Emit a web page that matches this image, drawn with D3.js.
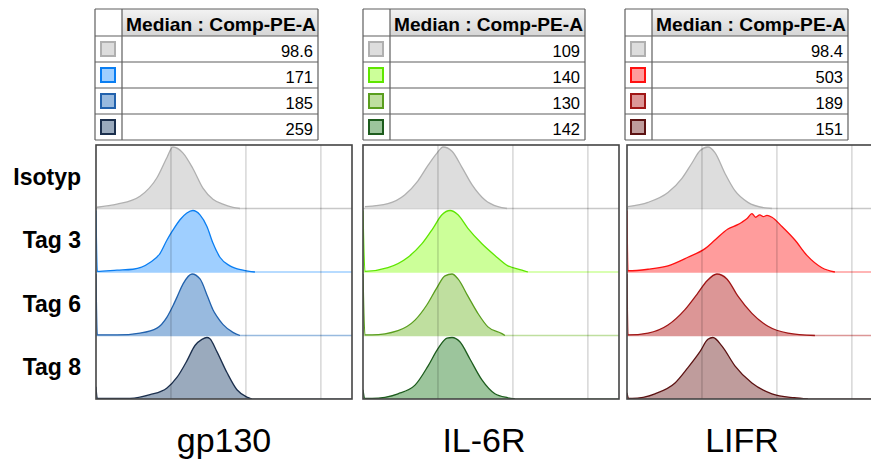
<!DOCTYPE html>
<html>
<head>
<meta charset="utf-8">
<script src="https://cdn.jsdelivr.net/npm/d3@7.9.0/dist/d3.min.js"></script>
<style>
  body { margin: 0; background: #fff; }
  svg { display: block; font-family: "Liberation Sans", Arial, sans-serif; }
</style>
</head>
<body>
<svg id="chart" width="871" height="459"></svg>
<script>
// Markers (one panel each) and samples (one row each)
const markers = ["gp130", "IL-6R", "LIFR"];
const samples = ["Isotyp", "Tag 3", "Tag 6", "Tag 8"];
const tableHeader = "Median : Comp-PE-A";

// Median values from the tables
const gp130Medians = ["98.6", "171", "185", "259"];
const il6rMedians = ["109", "140", "130", "142"];
const lifrMedians = ["98.4", "503", "189", "151"];

// Histograms: [Comp-PE-A intensity, % of mode]
const gp130Isotyp = [[10.3,2],[19.1,7],[38.6,20],[65,50],[88.5,83],[106,100],[145,90],[196,65],[267,33],[363,15],[493,7],[671,2],[832,0]];
const gp130Tag3 = [[10,100],[10.4,1],[19.1,3],[31.1,4.5],[52.5,15.5],[71.3,30],[88.5,52],[106,68],[132,85],[163,96],[196,100],[244,93],[302,74],[363,47],[450,24],[612,10],[912,3],[1318,0]];
const gp130Tag6 = [[10,100],[10.4,1],[19.1,1],[38.6,4],[65,12],[88.5,30],[106,48],[120,62],[145,84],[191,100],[244,92],[311,62],[363,42],[410,31],[493,18],[671,5],[832,0]];
const gp130Tag8 = [[10,20],[10.4,1],[28.4,1],[52.5,7],[88.5,18],[120,35],[163,62],[209,87],[259,97],[302,100],[331,98],[410,77],[558,43],[759,15],[1030,3],[1202,0]];

const il6rIsotyp = [[10.6,3],[21.5,8],[36.3,22.5],[54.1,45],[73.6,70],[97,90],[117,100],[154,93],[209,67],[284,39],[424,14],[631,3],[832,0]];
const il6rTag3 = [[10,100],[10.6,1],[21.5,7],[39.8,24],[61.2,46],[85.8,71],[113,93],[145,100],[185,93],[251,71],[386,46],[575,27],[858,10],[1318,3],[1585,0]];
const il6rTag6 = [[10,100],[10.6,1],[13.2,1],[29.3,8],[49.4,25],[71.3,50],[97,78],[124,97],[154,100],[185,92],[251,64],[341,36],[464,14],[713,3],[782,0]];
const il6rTag8 = [[10,15],[10.6,1],[13.2,1],[29.3,8.5],[49.4,22.5],[73.6,53.5],[100,82],[132,99],[154,100],[196,93],[267,65],[386,31],[575,8.5],[858,2],[1064,0]];

const lifrIsotyp = [[10.3,3],[19.1,10],[35.2,26],[54.1,49],[73.6,74],[94,94],[120,100],[149,91],[203,57],[275,29],[410,10],[692,1],[858,0]];
const lifrTag3 = [[10,100],[10.3,2],[19.1,4.5],[35.2,10],[65,24],[110,38],[149,52],[222,70],[300,77],[341,81],[400,87],[464,95],[520,89],[590,93],[660,90],[736,92],[858,89],[1166,74],[1738,52],[2512,27],[3981,7],[5929,0]];
const lifrTag6 = [[10,100],[10.3,1],[19.1,4],[35.2,17],[59.3,42],[85.8,67],[117,89],[158,100],[215,92],[302,64],[464,36],[759,15],[1403,4],[3213,0]];
const lifrTag8 = [[10,10],[10.5,1],[11.7,1],[23.6,8.5],[43.7,26],[65,51],[94,77],[120,97],[140,100],[185,86],[275,54],[464,26],[858,8.5],[1700,2],[2588,0]];

const medians = [gp130Medians, il6rMedians, lifrMedians];
const histograms = [
  [gp130Isotyp, gp130Tag3, gp130Tag6, gp130Tag8],
  [il6rIsotyp, il6rTag3, il6rTag6, il6rTag8],
  [lifrIsotyp, lifrTag3, lifrTag6, lifrTag8]
];
const gridTicks = [100, 1000, 10000];

// Colours per panel: isotype grey, then Tag 3 / 6 / 8
const fills = [
  ["#dddddd", "#9fcfff", "#98badf", "#9aaabd"],
  ["#dddddd", "#ccff99", "#bfdf9f", "#9cc59c"],
  ["#dddddd", "#ff9c9c", "#dc9696", "#bf9c9c"]
];
const strokes = [
  ["#b0b0b0", "#0a7ef2", "#2262ad", "#1b2f4d"],
  ["#b0b0b0", "#5fe600", "#5a9e1e", "#1d5c1d"],
  ["#b0b0b0", "#ff1010", "#a01616", "#5c1212"]
];

// Layout
const panelX = [96, 363, 627];
const panelTop = 145, panelW = 256, panelH = 254;
const rowH = panelH / samples.length;
const tableX = [95, 363, 625];
const tableW = [223, 222, 223];
const colW = 27, tableTop = 9, headH = 27, cellH = 26;
const labelX = [224, 484, 742];

const svg = d3.select("#chart");
const defs = svg.append("defs");

let grad = defs.append("linearGradient").attr("id", "headGrad")
  .attr("x1", 0).attr("y1", 0).attr("x2", 0).attr("y2", 1);
grad.append("stop").attr("offset", "0%").attr("stop-color", "#f3f3f3");
grad.append("stop").attr("offset", "100%").attr("stop-color", "#d5d5d5");

const x = d3.scaleLog().domain([10, 26000]).range([0, panelW]);
const y = d3.scaleLinear().domain([0, 100]).range([rowH, 2]);

const area = d3.area()
  .x(d => x(d[0])).y0(rowH).y1(d => y(d[1]))
  .curve(d3.curveMonotoneX);
const line = d3.line()
  .x(d => x(d[0])).y(d => y(d[1]))
  .curve(d3.curveMonotoneX);

markers.forEach((marker, p) => {
  // ---- median table ----
  const t = svg.append("g").attr("transform", `translate(${tableX[p]},${tableTop})`);
  const tw = tableW[p];

  t.append("rect").attr("x", colW).attr("y", 0)
    .attr("width", tw - colW).attr("height", headH)
    .attr("fill", "url(#headGrad)");

  t.append("text")
    .attr("x", colW + 4).attr("y", 22)
    .attr("font-size", 18.5).attr("font-weight", "bold")
    .attr("textLength", tw - colW - 6).attr("lengthAdjust", "spacingAndGlyphs")
    .text(tableHeader);

  const rows = t.selectAll("g.row")
    .data(medians[p])
    .enter().append("g")
    .attr("transform", (d, i) => `translate(0,${headH + i * cellH})`);

  rows.append("rect")
    .attr("x", 6).attr("y", 6).attr("width", 14).attr("height", 14)
    .attr("fill", (d, i) => fills[p][i])
    .attr("stroke", (d, i) => strokes[p][i])
    .attr("stroke-width", 2);

  rows.append("text")
    .attr("x", tw - 5).attr("y", 20.5)
    .attr("text-anchor", "end").attr("font-size", 16.5)
    .text(d => d);

  // grid of the table
  const tableH = headH + cellH * medians[p].length;
  const hLines = [0, headH].concat(medians[p].map((d, i) => headH + (i + 1) * cellH));
  t.selectAll("line.h").data(hLines).enter().append("line")
    .attr("x1", 0).attr("x2", tw).attr("y1", d => d).attr("y2", d => d)
    .attr("stroke", "#5e5e5e").attr("stroke-width", 1.2);
  t.selectAll("line.v").data([0, colW, tw]).enter().append("line")
    .attr("x1", d => d).attr("x2", d => d).attr("y1", 0).attr("y2", tableH)
    .attr("stroke", "#5e5e5e").attr("stroke-width", 1.2);

  // ---- histogram panel ----
  const g = svg.append("g").attr("transform", `translate(${panelX[p]},${panelTop})`);
  defs.append("clipPath").attr("id", "clip" + p)
    .append("rect").attr("width", panelW).attr("height", panelH);
  const inner = g.append("g").attr("clip-path", `url(#clip${p})`);

  inner.append("rect").attr("width", panelW).attr("height", panelH).attr("fill", "#fff");

  histograms[p].forEach((hist, r) => {
    const row = inner.append("g").attr("transform", `translate(0,${r * rowH})`);
    row.append("line")
      .attr("x1", 0).attr("x2", panelW).attr("y1", rowH).attr("y2", rowH)
      .attr("stroke", r === 0 ? "#c8c8c8" : fills[p][r]).attr("stroke-width", 1.5);
    row.append("path").datum(hist)
      .attr("d", area).attr("fill", fills[p][r]);
    row.append("path").datum(hist)
      .attr("d", line).attr("fill", "none")
      .attr("stroke", strokes[p][r]).attr("stroke-width", 1.3);
  });

  inner.selectAll("line.grid").data(gridTicks).enter().append("line")
    .attr("x1", d => x(d)).attr("x2", d => x(d))
    .attr("y1", 0).attr("y2", panelH)
    .attr("stroke", "#000").attr("stroke-opacity", 0.2).attr("stroke-width", 1.2);

  g.append("rect").attr("width", panelW).attr("height", panelH)
    .attr("fill", "none").attr("stroke", "#444").attr("stroke-width", 1.6);

  // marker label under the panel
  svg.append("text")
    .attr("x", labelX[p]).attr("y", 452)
    .attr("text-anchor", "middle").attr("font-size", 34)
    .text(marker);
});

// sample labels on the left
svg.selectAll("text.sample").data(samples).enter().append("text")
  .attr("x", 81).attr("y", (d, i) => panelTop + (i + 0.5) * rowH + 8)
  .attr("text-anchor", "end").attr("font-size", 23).attr("font-weight", "bold")
  .text(d => d);
</script>
</body>
</html>
